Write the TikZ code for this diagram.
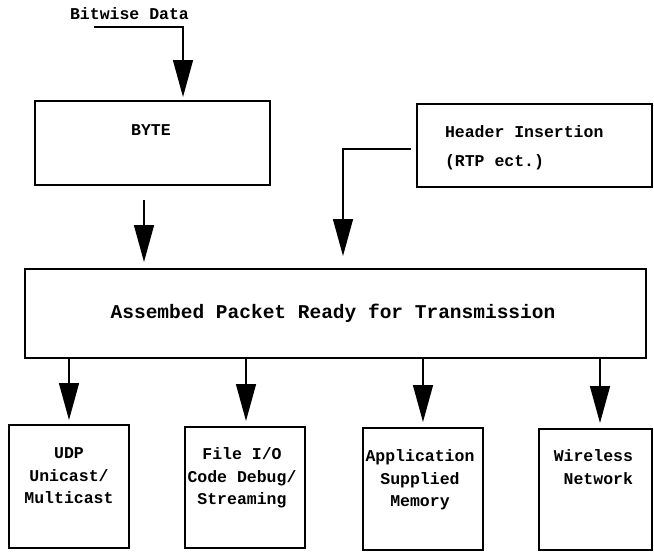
\documentclass[tikz,border=0pt]{standalone}
\usepackage{fontspec}
\setmonofont{Liberation Mono}
\usetikzlibrary{arrows.meta}
\begin{document}
\begin{tikzpicture}[x=1pt,y=-1pt,
  every node/.style={inner sep=0pt, outer sep=0pt},
  box/.style={draw, line width=1.4pt, anchor=north west},
  txt/.style={font=\ttfamily\bfseries\fontsize{16.5}{22.5}\selectfont},
  bigtxt/.style={font=\ttfamily\bfseries\fontsize{19.5}{24}\selectfont},
  arr/.style={line width=1.4pt, -{Triangle[length=37pt,width=20pt]}}]
\useasboundingbox (0,0) rectangle (654,552);
% boxes
\node[box, minimum width=235pt, minimum height=84pt] (byte) at (35,101) {};
\node[box, minimum width=235pt, minimum height=83pt] (hdr) at (417,104) {};
\node[box, minimum width=621pt, minimum height=89pt] (pkt) at (25,269) {};
\node[box, minimum width=120pt, minimum height=123pt] (udp) at (9,425) {};
\node[box, minimum width=120pt, minimum height=121pt] (fio) at (185,427) {};
\node[box, minimum width=120pt, minimum height=122pt] (app) at (363,428) {};
\node[box, minimum width=113pt, minimum height=121pt] (wl) at (539,429) {};
% texts
\node[txt, anchor=base] (bw) at (129.5,19.5) {Bitwise Data};
\node[txt, anchor=base] (tbyte) at (151,135.5) {BYTE};
\node[txt, anchor=base west] (th1) at (445,137.5) {Header Insertion};
\node[txt, anchor=base west] (th2) at (445,166) {(RTP ect.)};
\node[bigtxt, anchor=base] (tpkt) at (333,318.5) {Assembed Packet Ready for Transmission};
\node[txt, align=center, anchor=north] (tudp) at (69,448) {UDP\\Unicast/\\Multicast};
\node[txt, align=center, anchor=north] (tfio) at (242,448) {File I/O\\Code Debug/\\Streaming};
\node[txt, align=center, anchor=north] (tapp) at (420,450) {Application\\Supplied\\Memory};
\node[txt, align=right, anchor=north east] (twl) at (633,450) {Wireless\\Network};
% connectors
\coordinate (bws) at (94,27);
\coordinate (bwc) at (183,27);
\draw[arr, shorten >=4pt] (bws) -- (bwc) -- (bwc |- byte.north);
\coordinate (b1) at (144,200);
\draw[arr, shorten >=7pt] (b1) -- (b1 |- pkt.north);
\coordinate (h1) at (411,149);
\coordinate (h2) at (343,149);
\draw[arr, shorten >=13pt] (h1) -- (h2) -- (h2 |- pkt.north);
\draw[arr, shorten >=5pt] (udp.north |- pkt.south) -- (udp.north);
\draw[arr, shorten >=6pt] ([xshift=1pt]fio.north |- pkt.south) -- ([xshift=1pt]fio.north);
\draw[arr, shorten >=6pt] (app.north |- pkt.south) -- (app.north);
\draw[arr, shorten >=6pt] ([xshift=4.5pt]wl.north |- pkt.south) -- ([xshift=4.5pt]wl.north);
\end{tikzpicture}
\end{document}
